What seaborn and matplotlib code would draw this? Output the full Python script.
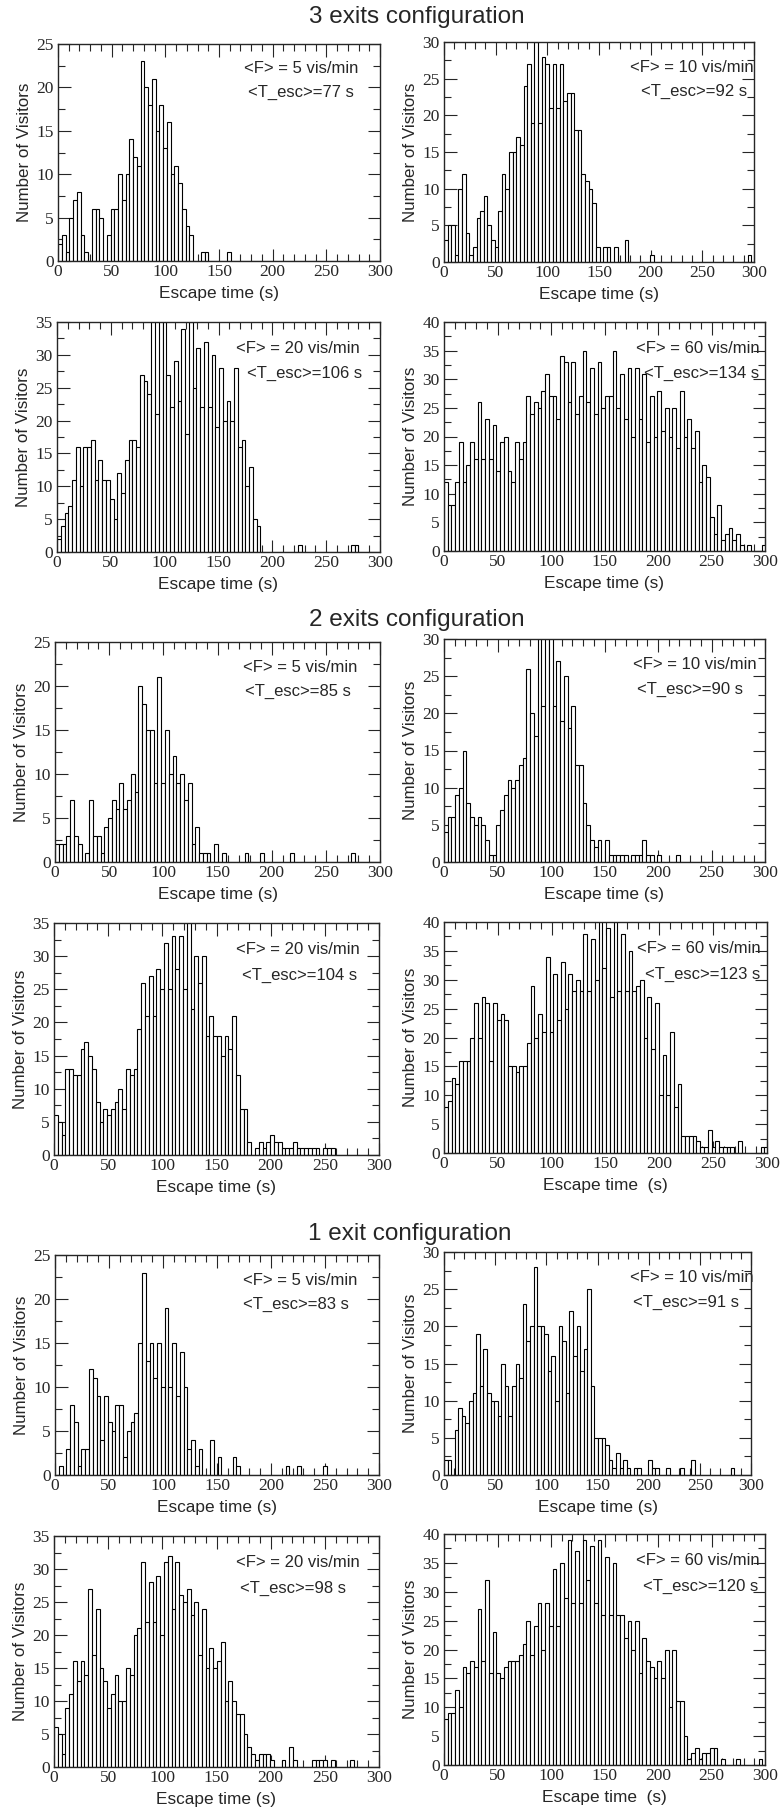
import numpy as np
import matplotlib
matplotlib.use("Agg")
import matplotlib.pyplot as plt
from matplotlib.ticker import MultipleLocator
import seaborn as sns

# histogram bins (3.5 s wide, 0 - 301 s)
bin_edges = np.arange(0, 301.5, 3.5)
bin_mid = bin_edges[:-1] + 1.75

configs = ["3 exits configuration", "2 exits configuration", "1 exit configuration"]
rates = [5, 10, 20, 60]
t_esc = [[77, 92, 106, 134], [85, 90, 104, 123], [83, 91, 98, 120]]

# counts per bin, one line = 10 bins (35 s)
ex3_f5 = [2, 3, 1, 5, 7, 8, 3, 1, 0, 6,
          6, 5, 0, 3, 6, 6, 10, 7, 10, 14,
          12, 11, 23, 20, 18, 21, 15, 18, 13, 16,
          10, 11, 9, 6, 4, 3, 0, 0, 1, 1,
          0, 0, 0, 0, 0, 1, 0, 0, 0, 0,
          0, 0, 0, 0, 0, 0, 0, 0, 0, 0,
          0, 0, 0, 0, 0, 0, 0, 0, 0, 0,
          0, 0, 0, 0, 0, 0, 0, 0, 0, 0,
          0, 0, 0, 0, 0, 0]
ex3_f10 = [3, 5, 5, 1, 10, 12, 4, 1, 2, 6,
           7, 9, 5, 3, 2, 7, 12, 10, 15, 15,
           17, 16, 24, 27, 19, 30, 19, 28, 27, 21,
           27, 21, 27, 22, 23, 23, 18, 18, 12, 11,
           10, 8, 2, 0, 2, 2, 0, 2, 0, 0,
           3, 0, 0, 0, 0, 0, 0, 1, 0, 0,
           0, 0, 0, 0, 0, 0, 0, 0, 0, 0,
           0, 0, 0, 0, 0, 0, 0, 0, 0, 0,
           0, 0, 0, 0, 1, 0]
ex3_f20 = [2, 4, 6, 7, 11, 16, 10, 16, 16, 17,
           11, 14, 11, 11, 8, 5, 12, 9, 14, 17,
           17, 16, 27, 26, 24, 37, 21, 37, 36, 27,
           22, 29, 23, 34, 18, 35, 25, 31, 22, 32,
           22, 30, 19, 28, 20, 23, 20, 28, 16, 17,
           10, 13, 5, 4, 0, 0, 0, 0, 0, 0,
           0, 0, 0, 0, 1, 0, 0, 0, 0, 0,
           0, 0, 0, 0, 0, 0, 0, 0, 1, 1,
           0, 0, 0, 0, 0, 0]
ex3_f60 = [12, 8, 8, 12, 19, 12, 15, 19, 16, 26,
           16, 23, 16, 22, 14, 19, 20, 14, 12, 19,
           16, 19, 27, 24, 26, 25, 28, 31, 27, 27,
           23, 34, 33, 26, 33, 24, 27, 35, 26, 32,
           24, 33, 25, 27, 27, 35, 25, 31, 23, 32,
           20, 32, 23, 31, 19, 27, 20, 28, 21, 25,
           20, 25, 18, 28, 20, 23, 18, 21, 12, 15,
           13, 6, 3, 8, 2, 3, 4, 2, 3, 1,
           0, 1, 0, 0, 0, 1]

ex2_f5 = [2, 2, 2, 3, 7, 3, 2, 0, 1, 7,
          3, 3, 1, 4, 5, 7, 6, 9, 6, 7,
          10, 8, 20, 18, 15, 15, 9, 21, 9, 15,
          10, 12, 9, 10, 7, 9, 2, 4, 1, 1,
          1, 0, 2, 0, 1, 0, 0, 0, 0, 0,
          1, 0, 0, 0, 1, 0, 0, 0, 0, 0,
          0, 0, 1, 0, 0, 0, 0, 0, 0, 0,
          0, 0, 0, 0, 0, 0, 0, 0, 1, 0,
          0, 0, 0, 0, 0, 0]
ex2_f10 = [4, 6, 6, 9, 10, 15, 8, 6, 5, 6,
           5, 3, 1, 1, 5, 7, 9, 11, 10, 11,
           13, 14, 26, 20, 17, 31, 21, 31, 31, 21,
           27, 19, 25, 18, 21, 13, 13, 8, 5, 3,
           2, 3, 0, 3, 1, 1, 1, 1, 1, 0,
           1, 1, 1, 3, 1, 1, 0, 1, 0, 0,
           0, 0, 1, 0, 0, 0, 0, 0, 0, 0,
           0, 0, 0, 0, 0, 0, 0, 0, 0, 0,
           0, 0, 0, 0, 0, 0]
ex2_f20 = [6, 5, 3, 13, 13, 12, 12, 16, 17, 15,
           13, 8, 5, 7, 6, 7, 8, 10, 7, 13,
           12, 13, 19, 26, 21, 27, 21, 28, 25, 32,
           25, 33, 28, 33, 25, 36, 22, 30, 26, 30,
           18, 21, 18, 18, 15, 18, 16, 21, 12, 7,
           7, 2, 0, 1, 2, 1, 2, 3, 2, 2,
           1, 1, 1, 2, 1, 1, 1, 1, 1, 1,
           0, 1, 1, 1, 0, 0, 0, 0, 0, 0,
           0, 0, 0, 0, 0, 0]
ex2_f60 = [8, 9, 13, 12, 16, 16, 16, 20, 26, 20,
           27, 26, 16, 26, 23, 24, 23, 15, 15, 14,
           15, 15, 19, 29, 20, 24, 21, 34, 21, 31,
           23, 33, 25, 31, 28, 30, 28, 38, 28, 37,
           30, 41, 32, 39, 27, 41, 28, 38, 28, 35,
           28, 29, 30, 20, 27, 18, 26, 10, 17, 10,
           21, 8, 12, 3, 3, 3, 3, 2, 1, 1,
           4, 1, 2, 1, 1, 1, 1, 0, 2, 0,
           0, 0, 0, 0, 1, 1]

ex1_f5 = [0, 1, 0, 3, 8, 6, 1, 3, 3, 12,
          11, 9, 4, 9, 6, 5, 8, 8, 2, 5,
          6, 7, 15, 23, 13, 15, 11, 15, 10, 19,
          10, 15, 9, 14, 10, 3, 4, 1, 3, 0,
          0, 4, 0, 2, 0, 0, 0, 2, 1, 0,
          0, 0, 0, 0, 0, 0, 0, 0, 0, 0,
          0, 1, 0, 0, 1, 0, 0, 0, 0, 0,
          0, 1, 0, 0, 0, 0, 0, 0, 0, 0,
          0, 0, 0, 0, 0, 0]
ex1_f10 = [2, 2, 0, 6, 9, 8, 7, 10, 11, 19,
           12, 17, 11, 10, 10, 8, 15, 12, 8, 12,
           15, 13, 23, 18, 20, 28, 20, 20, 19, 14,
           16, 10, 20, 18, 11, 22, 16, 20, 14, 17,
           25, 12, 5, 5, 5, 4, 2, 1, 3, 1,
           2, 1, 0, 1, 1, 0, 0, 2, 1, 1,
           0, 0, 1, 0, 0, 0, 1, 0, 0, 2,
           0, 0, 0, 0, 0, 0, 0, 0, 0, 0,
           1, 0, 0, 0, 0, 0]
ex1_f20 = [6, 5, 2, 9, 11, 16, 13, 16, 14, 27,
           17, 24, 15, 13, 9, 11, 14, 10, 10, 15,
           14, 20, 21, 31, 22, 28, 22, 29, 20, 31,
           32, 24, 31, 26, 25, 27, 23, 25, 17, 24,
           15, 18, 15, 16, 19, 10, 13, 10, 8, 8,
           5, 3, 2, 1, 2, 2, 2, 1, 0, 0,
           1, 0, 3, 1, 0, 0, 0, 0, 1, 1,
           1, 1, 0, 1, 0, 0, 0, 0, 1, 0,
           0, 0, 0, 0, 0, 0]
ex1_f60 = [8, 9, 9, 13, 10, 17, 16, 18, 17, 27,
           18, 32, 16, 23, 16, 15, 17, 18, 18, 18,
           19, 21, 25, 19, 24, 28, 20, 28, 24, 34,
           24, 35, 29, 39, 28, 37, 28, 39, 32, 38,
           28, 39, 26, 36, 26, 35, 26, 26, 22, 25,
           20, 25, 16, 22, 18, 17, 15, 18, 15, 20,
           10, 20, 11, 11, 5, 1, 2, 3, 1, 2,
           2, 3, 3, 0, 1, 0, 0, 0, 1, 0,
           0, 0, 0, 0, 1, 0]

counts = [[ex3_f5, ex3_f10, ex3_f20, ex3_f60],
          [ex2_f5, ex2_f10, ex2_f20, ex2_f60],
          [ex1_f5, ex1_f10, ex1_f20, ex1_f60]]
y_max = [25, 30, 35, 40]

# panel frames in pixels (left, top, right, bottom)
boxes = [(58, 44, 380, 261), (444, 42, 754, 262),
         (57, 322, 380, 552), (444, 322, 765, 551),
         (55, 642, 380, 862), (444, 639, 765, 862),
         (54, 923, 379, 1155), (444, 922, 767, 1153),
         (55, 1255, 379, 1475), (444, 1252, 751, 1475),
         (54, 1536, 379, 1767), (444, 1534, 765, 1765)]
note_x = [(0.755, 0.755), (0.80, 0.806), (0.747, 0.765), (0.792, 0.803),
          (0.753, 0.748), (0.78, 0.765), (0.749, 0.755), (0.79, 0.80),
          (0.758, 0.745), (0.806, 0.787), (0.75, 0.736), (0.79, 0.80)]
title_pos = [(417, 23), (417, 626), (410, 1240)]

W, H = 783, 1809
sns.set_style("ticks")
plt.rcParams['font.family'] = ['Liberation Sans', 'DejaVu Sans']

fig = plt.figure(figsize=(W / 100, H / 100), dpi=100)

for c in range(3):
    fig.text(title_pos[c][0] / W, 1 - title_pos[c][1] / H, configs[c],
             ha='center', va='baseline', fontsize=17.5)
    for k in range(4):
        p = c * 4 + k
        l, t, r, b = boxes[p]
        ax = fig.add_axes([l / W, 1 - b / H, (r - l) / W, (b - t) / H])
        sns.histplot(x=bin_mid, weights=counts[c][k], bins=bin_edges.tolist(), ax=ax,
                     facecolor='white', edgecolor='black', linewidth=0.8, alpha=1)
        ax.set_xlim(0, 300)
        ax.set_ylim(0, y_max[k])
        ax.xaxis.set_major_locator(MultipleLocator(50))
        ax.xaxis.set_minor_locator(MultipleLocator(10))
        ax.yaxis.set_major_locator(MultipleLocator(5))
        ax.yaxis.set_minor_locator(MultipleLocator(2.5))
        ax.tick_params(which='both', direction='in', top=True, right=True,
                       width=0.8, labelsize=12.5, labelfontfamily='Liberation Serif')
        ax.tick_params(which='major', length=9)
        ax.tick_params(which='minor', length=5)
        ax.tick_params(axis='x', pad=2.5)
        ax.tick_params(axis='y', pad=3)
        for s in ax.spines.values():
            s.set_linewidth(1)
        xl = 'Escape time  (s)' if (c > 0 and k == 3) else 'Escape time (s)'
        ax.set_xlabel(xl, fontsize=12.4, labelpad=4)
        ax.set_ylabel('Number of Visitors', fontsize=12.2, labelpad=3)
        ax.text(note_x[p][0], 0.885, '<F> = %d vis/min' % rates[k],
                transform=ax.transAxes, ha='center', va='center', fontsize=12)
        ax.text(note_x[p][1], 0.775, '<T_esc>=%d s' % t_esc[c][k],
                transform=ax.transAxes, ha='center', va='center', fontsize=12)

fig.savefig('out.png', dpi=100)
